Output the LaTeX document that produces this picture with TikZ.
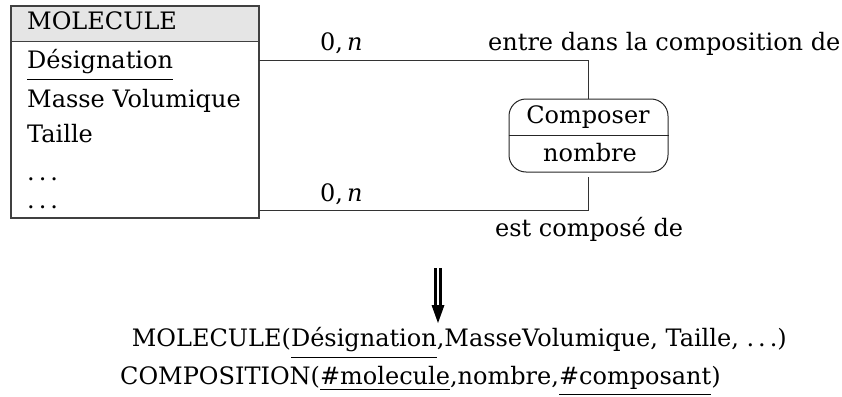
\documentclass[tikz,border=0pt]{standalone}
\usepackage{fontspec}
\setmainfont{DejaVu Serif}
\usetikzlibrary{calc}

% underline a word with a rule set at a chosen depth below the baseline
\newcommand\ulat[2]{\setbox0\hbox{#2}\rlap{\rule[-#1]{\wd0}{1.4pt}}\box0}
% widely spaced ellipsis
\newcommand\spdots{\hbox{.\kern4pt.\kern4pt.}}

\tikzset{
  txt/.style={inner sep=0pt, anchor=base west, font=\fontsize{24}{29}\selectfont},
  ctxt/.style={txt, anchor=base},
  entity/.style={draw=black!75, line width=1.1pt, minimum width=248pt, minimum height=212pt, inner sep=0pt},
  relbox/.style={draw=black!85, line width=1pt, rounded corners=17pt, minimum width=159pt, minimum height=73pt, inner sep=0pt},
  link/.style={draw=black!80, line width=1pt},
}

\begin{document}
\begin{tikzpicture}[x=1pt, y=-1pt]
\useasboundingbox (0,0) rectangle (842,396);

% entity MOLECULE
\fill[black!10] (11,6) rectangle (259,42);
\node[entity] (mol) at (135,112) {};
\draw[black!75, line width=1pt] (11,42) -- (259,42);
\node[txt] (mname) at (27,30) {MOLECULE};
\node[txt] (a1) at (27,68) {\ulat{12pt}{D\'esignation}};
\node[txt] (a2) at (27,107) {Masse Volumique};
\node[txt] (a3) at (27,142) {Taille};
\node[txt] (a4) at (27,180) {\spdots};
\node[txt] (a5) at (27,208) {\spdots};

% association Composer
\node[relbox] (rel) at (588.5,135.5) {};
\draw[black!85, line width=1pt] (rel.west) -- (rel.east);
\node[ctxt] (rname) at (588,123.3) {Composer};
\node[ctxt] (rattr) at (590,161.7) {nombre};

% links with their cardinalities and roles
\coordinate (top) at (259,60.5);
\coordinate (bot) at (588.5,177);
\coordinate (botend) at (259,210.5);
\draw[link] (top) -| (rel.north);
\draw[link] (bot) |- (botend);
\node[txt] (c1) at (320,50) {0,\,\textit{n}};
\node[txt] (c2) at (320,201.7) {0,\,\textit{n}};
\node[txt] (r1) at (488,50) {entre dans la composition de};
\node[txt] (r2) at (495,236) {est compos\'e de};

% translation arrow
\coordinate (ar0) at (438,268);
\coordinate (ar1) at (438,323);
\draw[line width=2.4pt] ($(ar0)+(-2.6,0)$) -- ($(ar1)+(-2.6,-16)$);
\draw[line width=2.4pt] ($(ar0)+(2.6,0)$) -- ($(ar1)+(2.6,-16)$);
\fill ($(ar1)+(-6.5,-18)$) -- ($(ar1)+(6.5,-18)$) -- (ar1) -- cycle;

% relational schema
\node[txt] (s1) at (131.7,346) {MOLECULE(\ulat{12pt}{D\'esignation},MasseVolumique, Taille, \spdots)};
\node[txt] (s2) at (120,384) {COMPOSITION(\ulat{6pt}{\#molecule},nombre,\ulat{11pt}{\#composant})};
\end{tikzpicture}
\end{document}
